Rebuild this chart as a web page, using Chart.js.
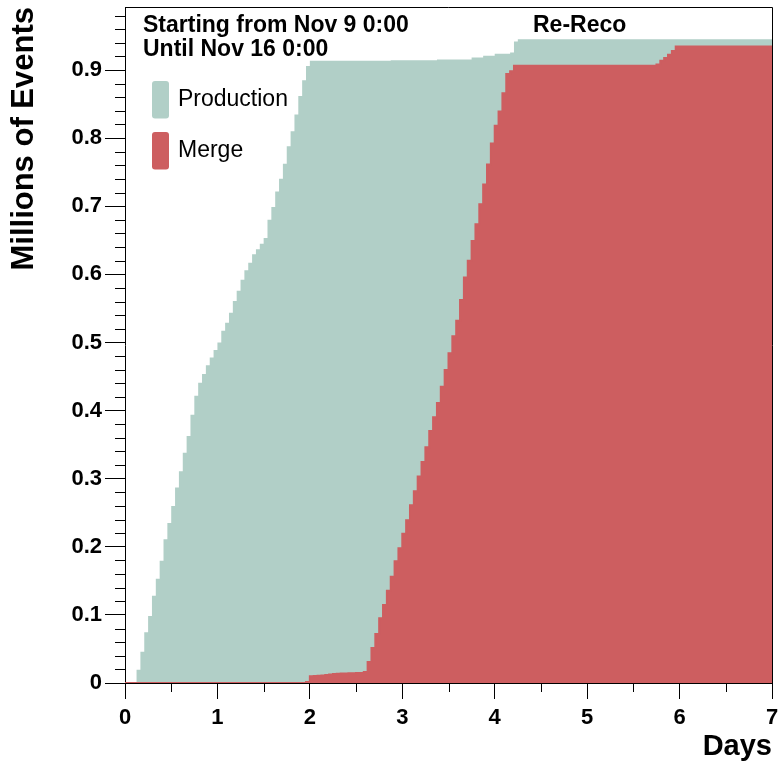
<!DOCTYPE html>
<html>
<head>
<meta charset="utf-8">
<title>Re-Reco: Millions of Events</title>
<script src="https://cdn.jsdelivr.net/npm/chart.js@4.4.1/dist/chart.umd.min.js"></script>
<style>
  html, body { margin: 0; padding: 0; background: #fff; }
  #wrap { width: 779px; height: 767px; position: relative; }
</style>
</head>
<body>
<div id="wrap"><canvas id="chart"></canvas></div>
<script>
// Cumulative number of events (millions), one value per hourly bin, one row per day.
const binsPerDay = 24;

const productionEvents = [
  0, 0, 0, 0.0195, 0.046, 0.0746, 0.0985, 0.128, 0.153, 0.1795, 0.211, 0.235,
  0.260, 0.287, 0.311, 0.338, 0.3625, 0.394, 0.4216, 0.4407, 0.4538, 0.4665, 0.478, 0.489,
  0.500, 0.517, 0.529, 0.5436, 0.5607, 0.5758, 0.592, 0.606, 0.617, 0.6296, 0.637, 0.645,
  0.6535, 0.680, 0.699, 0.7216, 0.7402, 0.7622, 0.788, 0.810, 0.8345, 0.862, 0.885, 0.906,
  0.9135, 0.9135, 0.9135, 0.9135, 0.9135, 0.9135, 0.9135, 0.9135, 0.9135, 0.9135, 0.9135, 0.9135,
  0.9135, 0.9135, 0.9135, 0.9135, 0.9135, 0.9135, 0.9135, 0.9135, 0.9135, 0.9142, 0.9142, 0.9142,
  0.9142, 0.9142, 0.9142, 0.9142, 0.9142, 0.9142, 0.9142, 0.9142, 0.9142, 0.9155, 0.9155, 0.9155,
  0.9155, 0.9155, 0.9155, 0.9155, 0.9155, 0.9155, 0.9184, 0.9184, 0.9184, 0.9208, 0.9208, 0.9208,
  0.9237, 0.9237, 0.9237, 0.9237, 0.9257, 0.9418, 0.945, 0.945, 0.945, 0.945, 0.945, 0.945,
  0.945, 0.945, 0.945, 0.945, 0.945, 0.945, 0.945, 0.945, 0.945, 0.945, 0.945, 0.945,
  0.945, 0.945, 0.945, 0.945, 0.945, 0.945, 0.945, 0.945, 0.945, 0.945, 0.945, 0.945,
  0.945, 0.945, 0.945, 0.945, 0.945, 0.945, 0.945, 0.945, 0.945, 0.945, 0.945, 0.945,
  0.945, 0.945, 0.945, 0.945, 0.945, 0.945, 0.945, 0.945, 0.945, 0.945, 0.945, 0.945,
  0.945, 0.945, 0.945, 0.945, 0.945, 0.945, 0.945, 0.945, 0.945, 0.945, 0.945, 0.945
];

const mergeEvents = [
  0, 0, 0, 0, 0, 0, 0, 0, 0, 0, 0, 0,
  0, 0, 0, 0, 0, 0, 0, 0, 0, 0, 0, 0,
  0, 0, 0, 0, 0, 0, 0, 0, 0, 0, 0, 0,
  0, 0, 0, 0, 0, 0, 0, 0, 0, 0, 0, 0.0015,
  0.0098, 0.0101, 0.0105, 0.0110, 0.0118, 0.0126, 0.0132, 0.0136, 0.0139, 0.0141, 0.0143, 0.0144,
  0.0145, 0.0146, 0.0160, 0.0307, 0.0515, 0.072, 0.095, 0.1146, 0.1356, 0.156, 0.1786, 0.198,
  0.219, 0.239, 0.261, 0.2815, 0.303, 0.3244, 0.346, 0.370, 0.390, 0.411, 0.435, 0.4597,
  0.484, 0.509, 0.532, 0.5623, 0.5954, 0.620, 0.649, 0.6735, 0.703, 0.732, 0.7613, 0.792,
  0.818, 0.839, 0.866, 0.894, 0.898, 0.9063, 0.9063, 0.9063, 0.9063, 0.9063, 0.9063, 0.9063,
  0.9063, 0.9063, 0.9063, 0.9063, 0.9063, 0.9063, 0.9063, 0.9063, 0.9063, 0.9063, 0.9063, 0.9063,
  0.9063, 0.9063, 0.9063, 0.9063, 0.9063, 0.9063, 0.9063, 0.9063, 0.9063, 0.9063, 0.9063, 0.9063,
  0.9063, 0.9063, 0.9063, 0.9063, 0.9063, 0.9063, 0.908, 0.9136, 0.9175, 0.9224, 0.928, 0.9345,
  0.9345, 0.9345, 0.9345, 0.9345, 0.9345, 0.9345, 0.9345, 0.9345, 0.9345, 0.9345, 0.9345, 0.9345,
  0.9345, 0.9345, 0.9345, 0.9345, 0.9345, 0.9345, 0.9345, 0.9345, 0.9345, 0.9345, 0.9345, 0.9345
];

const seriesLabels = ['Production', 'Merge'];
const seriesColors = ['#b1cfc7', '#cd5e60'];

const xTickValues = [0, 1, 2, 3, 4, 5, 6, 7];
const xTickLabels = ['0', '1', '2', '3', '4', '5', '6', '7'];
const yTickValues = [0, 0.1, 0.2, 0.3, 0.4, 0.5, 0.6, 0.7, 0.8, 0.9];
const yTickLabels = ['0', '0.1', '0.2', '0.3', '0.4', '0.5', '0.6', '0.7', '0.8', '0.9'];

const xTitle = 'Days';
const yTitle = 'Millions of Events';
const infoLines = ['Starting from Nov 9 0:00', 'Until Nov 16 0:00'];
const panelTitle = 'Re-Reco';

const FONT = "'Liberation Sans', Arial, Helvetica, sans-serif";

// Histogram bins -> step points (left bin edges plus the closing right edge)
function toSteps(values) {
  const pts = values.map((v, i) => ({ x: i / binsPerDay, y: v }));
  pts.push({ x: values.length / binsPerDay, y: values[values.length - 1] });
  return pts;
}

// Minor tick positions between the labelled ones
function minorTicks(majors, divisions, extraEnd) {
  const out = [];
  const step = majors[1] - majors[0];
  const last = majors[majors.length - 1] + (extraEnd ? step : 0);
  for (let i = 0; i < majors.length; i++) {
    for (let k = 1; k < divisions; k++) {
      const v = majors[i] + step * k / divisions;
      if (v < last - 1e-9) out.push(v);
    }
  }
  return out;
}
const xMinor = minorTicks(xTickValues, 2, false);
const yMinor = minorTicks(yTickValues, 5, true);

const decorations = {
  id: 'decorations',
  afterDatasetsDraw(chart) {
    const { ctx, chartArea: a, scales: { x, y } } = chart;
    ctx.save();
    ctx.strokeStyle = '#000';
    ctx.lineWidth = 1;
    ctx.beginPath();
    // frame: top and right edges
    ctx.moveTo(a.left, Math.round(a.top) + 0.5);
    ctx.lineTo(Math.round(a.right) + 0.5, Math.round(a.top) + 0.5);
    ctx.lineTo(Math.round(a.right) + 0.5, a.bottom);
    // minor ticks
    xMinor.forEach(v => {
      const px = Math.round(x.getPixelForValue(v)) + 0.5;
      ctx.moveTo(px, a.bottom);
      ctx.lineTo(px, a.bottom + 9);
    });
    yMinor.forEach(v => {
      const py = Math.round(y.getPixelForValue(v)) + 0.5;
      if (py < a.top) return;
      ctx.moveTo(a.left, py);
      ctx.lineTo(a.left - 10, py);
    });
    ctx.stroke();
    ctx.restore();
  },
  afterDraw(chart) {
    const { ctx, chartArea: a } = chart;
    ctx.save();
    ctx.fillStyle = '#000';
    ctx.textBaseline = 'alphabetic';
    ctx.textAlign = 'left';
    ctx.font = 'bold 23px ' + FONT;
    ctx.fillText(infoLines[0], a.left + 18, a.top + 25);
    ctx.fillText(infoLines[1], a.left + 18, a.top + 49);
    ctx.fillText(panelTitle, a.left + 408, a.top + 25);

    // legend
    const ds = chart.data.datasets;
    ctx.font = '23px ' + FONT;
    [0, 1].forEach((idx, row) => {
      const top = a.top + 74 + row * 51;
      ctx.fillStyle = ds[idx].backgroundColor;
      ctx.beginPath();
      if (ctx.roundRect) ctx.roundRect(a.left + 27, top, 17, 37.5, 3);
      else ctx.rect(a.left + 27, top, 17, 37.5);
      ctx.fill();
      ctx.fillStyle = '#000';
      ctx.fillText(ds[idx].label, a.left + 53, top + 25);
    });
    ctx.restore();
  }
};

new Chart(document.getElementById('chart'), {
  type: 'line',
  data: {
    datasets: [
      {
        label: seriesLabels[0],
        data: toSteps(productionEvents),
        stepped: true,
        fill: 'origin',
        backgroundColor: seriesColors[0],
        borderColor: seriesColors[0],
        borderWidth: 0,
        pointRadius: 0,
        order: 2
      },
      {
        label: seriesLabels[1],
        data: toSteps(mergeEvents),
        stepped: true,
        fill: 'origin',
        backgroundColor: seriesColors[1],
        borderColor: seriesColors[1],
        borderWidth: 2,
        pointRadius: 0,
        order: 1
      }
    ]
  },
  options: {
    responsive: true,
    maintainAspectRatio: false,
    animation: false,
    devicePixelRatio: 1,
    parsing: false,
    normalized: true,
    layout: { padding: { top: 7, right: 7, left: 0, bottom: 0 } },
    plugins: { legend: { display: false }, tooltip: { enabled: false } },
    elements: { line: { tension: 0 }, point: { radius: 0 } },
    scales: {
      x: {
        type: 'linear',
        min: 0,
        max: 7,
        afterBuildTicks(s) { s.ticks = xTickValues.map(v => ({ value: v })); },
        afterFit(s) { s.height = 84; s.paddingLeft = 0; s.paddingRight = 0; },
        ticks: {
          autoSkip: false,
          maxRotation: 0,
          padding: 6,
          color: '#000',
          font: { family: FONT, weight: 'bold', size: 22 },
          callback: (v, i) => xTickLabels[i]
        },
        grid: { drawOnChartArea: false, drawTicks: true, tickLength: 16, color: '#000', lineWidth: 1 },
        border: { display: true, color: '#000', width: 1 },
        title: {
          display: true, text: xTitle, align: 'end', color: '#000',
          font: { family: FONT, weight: 'bold', size: 29 },
          padding: { top: 0, bottom: 3 }
        }
      },
      y: {
        type: 'linear',
        min: 0,
        max: 0.9925,
        afterBuildTicks(s) { s.ticks = yTickValues.map(v => ({ value: v })); },
        afterFit(s) { s.width = 125; s.paddingTop = 0; s.paddingBottom = 0; },
        ticks: {
          autoSkip: false,
          padding: 3,
          color: '#000',
          font: { family: FONT, weight: 'bold', size: 22 },
          callback: (v, i) => yTickLabels[i]
        },
        grid: { drawOnChartArea: false, drawTicks: true, tickLength: 20, color: '#000', lineWidth: 1 },
        border: { display: true, color: '#000', width: 1 },
        title: {
          display: true, text: yTitle, align: 'end', color: '#000',
          font: { family: FONT, weight: 'bold', size: 31 },
          padding: { top: 6, bottom: 0 }
        }
      }
    }
  },
  plugins: [decorations]
});
</script>
</body>
</html>
